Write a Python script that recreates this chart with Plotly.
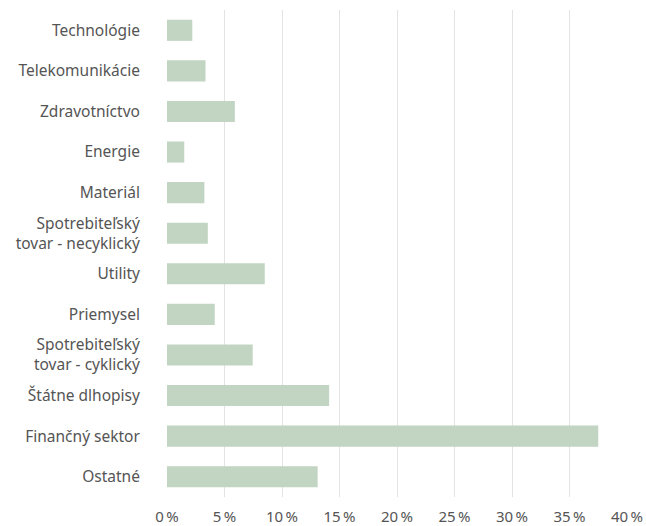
import plotly.graph_objects as go

categories = [
    "Technológie",
    "Telekomunikácie",
    "Zdravotníctvo",
    "Energie",
    "Materiál",
    "Spotrebiteľský<br>tovar - necyklický",
    "Utility",
    "Priemysel",
    "Spotrebiteľský<br>tovar - cyklický",
    "Štátne dlhopisy",
    "Finančný sektor",
    "Ostatné",
]
values = [2.2, 3.35, 5.9, 1.5, 3.25, 3.55, 8.5, 4.15, 7.45, 14.1, 37.5, 13.1]
tick_vals = [0, 5, 10, 15, 20, 25, 30, 35, 40]
tick_text = [f"{v}\u2009%" for v in tick_vals]

fig = go.Figure(
    go.Bar(
        x=values,
        y=categories,
        orientation="h",
        marker=dict(color="#c2d5c2", line=dict(width=0)),
        width=0.52,
        hoverinfo="x+y",
    )
)

fig.update_layout(
    width=646,
    height=526,
    margin=dict(l=167, r=19, t=10, b=29),
    paper_bgcolor="white",
    plot_bgcolor="white",
    font=dict(family="'Noto Sans', sans-serif", size=15.5, color="#555555"),
    showlegend=False,
)
fig.update_xaxes(
    range=[0, 40],
    tickvals=tick_vals,
    ticktext=tick_text,
    showgrid=True,
    gridcolor="#e3e3e3",
    gridwidth=1,
    zeroline=False,
    showline=False,
    ticks="outside",
    ticklen=6,
    tickcolor="rgba(0,0,0,0)",
    tickfont=dict(size=15, color="#555555"),
    automargin=False,
)
fig.update_yaxes(
    autorange="reversed",
    showgrid=False,
    zeroline=False,
    showline=False,
    ticks="outside",
    ticklen=23,
    tickcolor="rgba(0,0,0,0)",
    tickfont=dict(size=15.5, color="#555555"),
    automargin=False,
)

fig.write_html(
    "out.html",
    config={"displayModeBar": False},
    post_script="document.body.style.margin='0';document.body.style.overflow='hidden';",
)
